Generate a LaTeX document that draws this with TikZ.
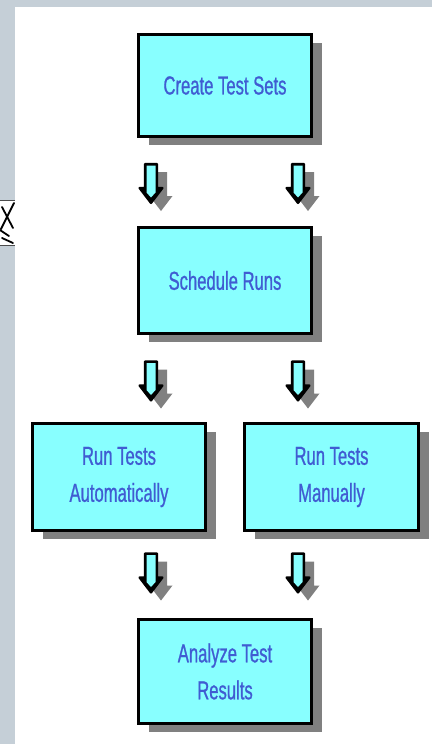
\documentclass[tikz,border=0pt]{standalone}
\usepackage{fontspec}
\usetikzlibrary{shadows}
\newfontfamily\narrowfont[FakeStretch=0.64, FakeBold=0.8]{Liberation Sans}
\definecolor{boxfill}{RGB}{136,255,255}
\definecolor{textblue}{RGB}{64,92,210}
\definecolor{frame}{RGB}{197,207,215}
\definecolor{shade}{RGB}{128,128,128}

\tikzset{
  boxshadow/.style={drop shadow={fill=shade, opacity=1, shadow xshift=10pt, shadow yshift=-8pt}},
  downarrow/.pic={
    \draw[line width=2.2pt, fill=black, line join=round, boxshadow]
      (-6,-19.5) -- (6,-19.5) -- (6,4.5) -- (11.5,4.5) -- (0,19.5) -- (-11.5,4.5) -- (-6,4.5) -- cycle;
    \fill[boxfill] (-4.5,-18) -- (4.5,-18) -- (4.5,9) -- (0,14) -- (-4.5,9) -- cycle;
  }
}

\begin{document}
\begin{tikzpicture}[x=1pt, y=-1pt,
    stepbox/.style={draw, line width=3pt, fill=boxfill, boxshadow,
      minimum width=173pt, minimum height=104pt, align=center, text=textblue,
      font=\narrowfont\fontsize{26}{37}\selectfont}]
  \useasboundingbox (0,0) rectangle (432,744);
  \fill[frame] (0,0) rectangle (432,744);
  \fill[white] (15,7) rectangle (432,744);

  % clipped glyph on the left edge
  \fill[white] (0,200) rectangle (15,245);
  \draw[gray!60!black, line width=0.8pt] (0,200) -- (15,200) (0,245) -- (15,245);
  \draw[line width=1.8pt, line cap=round]
    (2,207) -- (13,228)
    (14,203) .. controls (8,215) .. (1,229)
    (0,230) -- (9,236)
    (2,238) -- (13,243);

  \node[stepbox, minimum height=102pt] (create) at (225,85.5) {Create Test Sets};
  \node[stepbox, minimum height=106pt] (schedule) at (225,280.5) {Schedule Runs};
  \node[stepbox, minimum height=107pt] (auto) at (119,477) {Run Tests\\Automatically};
  \node[stepbox, minimum height=107pt, minimum width=174pt] (manual) at (331.5,477) {Run Tests\\Manually};
  \node[stepbox] (analyze) at (225,671.5) {Analyze Test\\Results};

  \foreach \y in {183.5, 381, 573}
    \foreach \x in {151, 298}
      \pic at (\x,\y) {downarrow};
\end{tikzpicture}
\end{document}
